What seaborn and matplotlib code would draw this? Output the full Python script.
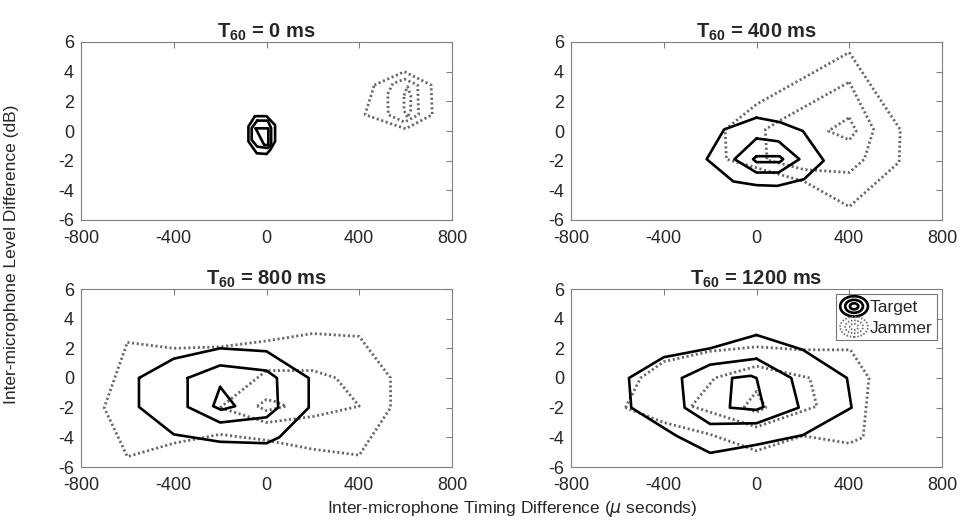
import matplotlib
matplotlib.use("Agg")
import matplotlib.pyplot as plt
from matplotlib.legend_handler import HandlerBase
from matplotlib.lines import Line2D
from matplotlib.patches import Ellipse
import pandas as pd
import seaborn as sns

# Contour rings (timing difference in microseconds, level difference in dB),
# outermost ring first, for each reverberation time.
T0_TARGET = [
    [(-50, 1.0), (0, 1.0), (37, 0.4), (37, -0.7), (15, -1.3), (0, -1.55),
     (-42, -1.5), (-78, -0.7), (-78, 0.3)],
    [(-40, 0.7), (5, 0.7), (20, 0.2), (20, -0.9), (5, -1.15), (-40, -1.05),
     (-64, -0.6), (-64, 0.2)],
    [(-47, 0.18), (8, 0.18), (8, -0.94), (-10, -0.94)],
]
T0_JAMMER = [
    [(465, 3.1), (595, 4.0), (710, 3.1), (715, 1.1), (600, 0.15), (425, 1.1)],
    [(523, 2.5), (545, 3.2), (595, 3.5), (652, 3.1), (656, 1.1), (595, 0.6),
     (525, 1.1)],
    [(593, 2.4), (608, 3.0), (622, 2.4), (622, 1.4), (608, 0.9), (593, 1.4)],
]

T400_TARGET = [
    [(0, 0.9), (100, 0.6), (200, 0.0), (290, -2.0), (205, -3.25), (90, -3.7),
     (0, -3.65), (-100, -3.4), (-215, -1.9), (-140, 0.1)],
    [(0, -0.5), (95, -0.7), (185, -1.9), (95, -2.8), (0, -2.8), (-95, -1.9)],
    [(0, -1.7), (100, -1.7), (115, -1.9), (100, -2.1), (0, -2.1), (-15, -1.9)],
]
T400_JAMMER = [
    [(400, 5.3), (505, 2.8), (620, 0.1), (615, -2.1), (400, -5.1),
     (205, -3.4), (-130, -1.9), (-135, 0.1), (0, 1.8)],
    [(400, 3.3), (505, 0.1), (465, -1.9), (400, -2.8), (205, -2.6),
     (45, -1.95), (38, 0.1), (100, 0.7)],
    [(400, 0.9), (430, 0.0), (400, -0.6), (310, 0.0)],
]

T800_TARGET = [
    [(-550, 0.0), (-550, -1.95), (-400, -3.8), (-200, -4.3), (0, -4.4),
     (55, -4.0), (182, -2.0), (182, 0.0), (0, 1.8), (-200, 2.0), (-400, 1.3)],
    [(-340, 0.0), (-340, -1.95), (-200, -3.0), (0, -2.65), (50, -2.0),
     (45, 0.0), (0, 0.5), (-200, 0.85)],
    [(-200, -0.6), (-135, -1.9), (-195, -2.15), (-230, -1.9)],
]
T800_JAMMER = [
    [(-600, 2.4), (-400, 2.0), (-200, 2.1), (0, 2.5), (200, 3.0), (400, 2.8),
     (535, 0.0), (535, -2.0), (400, -5.2), (200, -4.8), (0, -4.2),
     (-200, -3.8), (-400, -4.4), (-600, -5.3), (-700, -2.0)],
    [(-200, -2.0), (0, 0.5), (200, 0.5), (300, 0.0), (400, -1.9),
     (200, -2.6), (0, -3.0)],
    [(-40, -1.9), (0, -1.45), (40, -1.6), (85, -1.9), (0, -2.2)],
]

T1200_TARGET = [
    [(0, 2.9), (200, 1.9), (390, 0.0), (410, -2.0), (200, -3.85), (0, -4.5),
     (-200, -5.05), (-345, -3.9), (-540, -2.0), (-550, 0.0), (-400, 1.4),
     (-200, 2.0)],
    [(0, 1.3), (150, 0.0), (182, -2.0), (0, -3.05), (-200, -3.1), (-310, -2.0),
     (-322, 0.0), (-200, 0.9)],
    [(-105, 0.0), (-25, 0.15), (0, 0.0), (30, -1.95), (0, -2.15), (-115, -2.0)],
]
T1200_JAMMER = [
    [(-565, -2.0), (-500, 0.0), (-400, 1.1), (-200, 1.8), (0, 2.1),
     (200, 1.9), (405, 1.9), (485, 0.0), (460, -4.0), (400, -4.4),
     (200, -3.9), (0, -4.9), (-200, -3.8), (-400, -3.0)],
    [(-280, -1.9), (-180, 0.0), (0, 0.8), (230, 0.0), (260, -1.9),
     (0, -3.3)],
    [(-55, -2.0), (0, -0.9), (40, -2.0), (0, -2.3)],
]

PANEL_TITLES = [r"$\mathbf{T_{60}}$ = 0 ms", r"$\mathbf{T_{60}}$ = 400 ms",
                r"$\mathbf{T_{60}}$ = 800 ms", r"$\mathbf{T_{60}}$ = 1200 ms"]
PANEL_RINGS = [(T0_TARGET, T0_JAMMER), (T400_TARGET, T400_JAMMER),
               (T800_TARGET, T800_JAMMER), (T1200_TARGET, T1200_JAMMER)]
X_TICKS = [-800, -400, 0, 400, 800]
Y_TICKS = [-6, -4, -2, 0, 2, 4, 6]
SOURCE_NAMES = ["Target", "Jammer"]

TARGET_STYLE = dict(color="black", linestyle="-", linewidth=1.9)
JAMMER_STYLE = dict(color="#666666", linestyle=(0, (0.75, 0.95)), linewidth=2.0)

sns.set_theme(style="white")
plt.rcParams["font.family"] = ["Liberation Sans", "DejaVu Sans"]
plt.rcParams["axes.unicode_minus"] = False
plt.rcParams["mathtext.fontset"] = "custom"
plt.rcParams["mathtext.rm"] = "Liberation Sans"
plt.rcParams["mathtext.bf"] = "Liberation Sans:bold"
plt.rcParams["mathtext.it"] = "DejaVu Sans:italic"


def ring_frame(ring):
    pts = list(ring) + [ring[0]]
    return pd.DataFrame({"x": [p[0] for p in pts], "y": [p[1] for p in pts],
                         "order": range(len(pts))})


class RingsHandler(HandlerBase):
    """Legend key drawn as three concentric ellipses."""

    def create_artists(self, legend, orig_handle, xdescent, ydescent,
                       width, height, fontsize, trans):
        cx = width / 2 - xdescent
        cy = height / 2 - ydescent
        solid = orig_handle.get_linestyle() in ("-", "solid")
        lw = orig_handle.get_linewidth() if solid else 1.3
        ls = "-" if solid else (0, (0.8, 1.0))
        arts = []
        for s in (1.0, 0.64, 0.3):
            e = Ellipse((cx, cy), width * s, height * 1.3 * s, fill=False,
                        edgecolor=orig_handle.get_color(),
                        linestyle=ls, linewidth=lw, transform=trans)
            arts.append(e)
        return arts


fig = plt.figure(figsize=(9.61, 5.23), dpi=100)
w, h = 371 / 961, 178 / 523
lefts = [81 / 961, 571 / 961]
bottoms = [1 - 220 / 523, 1 - 467 / 523]
axes = [fig.add_axes([lefts[i % 2], bottoms[i // 2], w, h]) for i in range(4)]

for ax, title, (target, jammer) in zip(axes, PANEL_TITLES, PANEL_RINGS):
    for ring in jammer:
        sns.lineplot(data=ring_frame(ring), x="x", y="y", sort=False,
                     estimator=None, ax=ax, legend=False, **JAMMER_STYLE)
    for ring in target:
        sns.lineplot(data=ring_frame(ring), x="x", y="y", sort=False,
                     estimator=None, ax=ax, legend=False, **TARGET_STYLE)
    ax.set_xlim(X_TICKS[0], X_TICKS[-1])
    ax.set_ylim(Y_TICKS[0], Y_TICKS[-1])
    ax.set_xticks(X_TICKS)
    ax.set_yticks(Y_TICKS)
    ax.set_xlabel("")
    ax.set_ylabel("")
    ax.set_title(title, fontsize=14.5, fontweight="bold", pad=3)
    ax.tick_params(direction="in", top=True, right=True, length=4, width=0.8,
                   color="#808080", labelsize=13)
    ax.tick_params(axis="x", pad=7)
    ax.tick_params(axis="y", pad=5)
    for sp in ax.spines.values():
        sp.set_color("#808080")
        sp.set_linewidth(0.8)

handles = [Line2D([], [], **TARGET_STYLE), Line2D([], [], **JAMMER_STYLE)]
leg = axes[3].legend(handles, SOURCE_NAMES, loc="upper right",
                     handler_map={Line2D: RingsHandler()},
                     fontsize=12.5, frameon=True, fancybox=False,
                     handlelength=1.6, handleheight=1.0, handletextpad=0.1,
                     borderpad=0.25, labelspacing=0.22, borderaxespad=0.3)
leg.get_frame().set_edgecolor("#555555")
leg.get_frame().set_linewidth(0.8)

fig.text(12 / 961, 1 - 254 / 523, "Inter-microphone Level Difference (dB)",
         rotation=90, ha="center", va="center", fontsize=12.5)
fig.text(512 / 961, 1 - 509 / 523,
         r"Inter-microphone Timing Difference ($\mu$ seconds)",
         ha="center", va="center", fontsize=12.5)

fig.savefig("out.png", dpi=100, facecolor="white")
